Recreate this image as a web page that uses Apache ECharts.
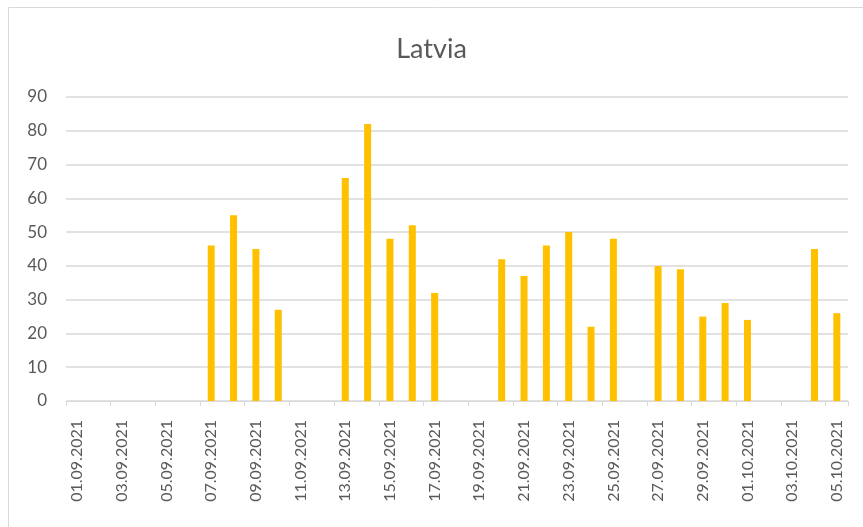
<!DOCTYPE html>
<html>
<head>
<meta charset="utf-8">
<script src="https://cdn.jsdelivr.net/npm/echarts@6/dist/echarts.min.js"></script>
<style>
  html, body { margin: 0; padding: 0; background: #fff; }
  #chart { width: 863px; height: 527px; }
</style>
</head>
<body>
<div id="chart"></div>
<script>
// days 01.09.2021 .. 05.10.2021
var days = [
  '01.09.2021', '02.09.2021', '03.09.2021', '04.09.2021', '05.09.2021', '06.09.2021', '07.09.2021',
  '08.09.2021', '09.09.2021', '10.09.2021', '11.09.2021', '12.09.2021', '13.09.2021', '14.09.2021',
  '15.09.2021', '16.09.2021', '17.09.2021', '18.09.2021', '19.09.2021', '20.09.2021', '21.09.2021',
  '22.09.2021', '23.09.2021', '24.09.2021', '25.09.2021', '26.09.2021', '27.09.2021', '28.09.2021',
  '29.09.2021', '30.09.2021', '01.10.2021', '02.10.2021', '03.10.2021', '04.10.2021', '05.10.2021'
]
var cases = [
  null, null, null, null, null, null, 46,
  55, 45, 27, null, null, 66, 82,
  48, 52, 32, null, null, 42, 37,
  46, 50, 22, 48, null, 40, 39,
  25, 29, 24, null, null, 45, 26
]
var yTicks = { min: 0, max: 90, step: 10 }

var chart = echarts.init(document.getElementById('chart'))
chart.setOption({
  animation: false,
  textStyle: { fontFamily: 'Lato' },
  title: {
    text: 'Latvia',
    left: 'center',
    top: 31,
    textStyle: { fontFamily: 'Lato', fontSize: 27, fontWeight: 'normal', color: '#595959' }
  },
  graphic: [{
    type: 'rect',
    shape: { x: 8.5, y: 7.5, width: 900, height: 600 },
    style: { fill: null, stroke: '#d9d9d9', lineWidth: 1 },
    silent: true
  }],
  grid: { left: 66, right: 15, top: 97, bottom: 126 },
  xAxis: {
    type: 'category',
    data: days,
    axisLine: { lineStyle: { color: '#d9d9d9', width: 1 } },
    axisTick: { show: true, interval: 1, length: 5, lineStyle: { color: '#d9d9d9' } },
    axisLabel: { interval: 1, rotate: 90, margin: 19, fontSize: 16, color: '#595959' }
  },
  yAxis: {
    type: 'value',
    min: yTicks.min,
    max: yTicks.max,
    interval: yTicks.step,
    axisLine: { show: false },
    axisTick: { show: false },
    axisLabel: { margin: 19, fontSize: 17, color: '#595959' },
    splitLine: { lineStyle: { color: '#d9d9d9', width: 1.5 } }
  },
  series: [{
    name: 'Latvia',
    type: 'bar',
    data: cases,
    barWidth: 7,
    itemStyle: { color: '#ffc000' }
  }]
})
</script>
</body>
</html>
